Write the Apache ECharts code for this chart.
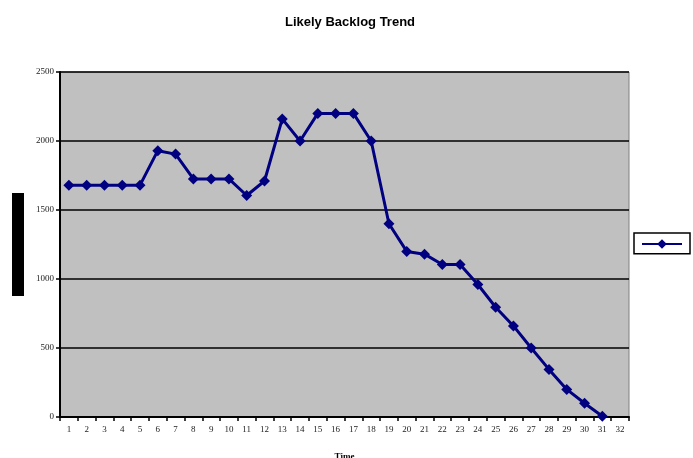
<!DOCTYPE html>
<html><head><meta charset="utf-8">
<script src="https://cdn.jsdelivr.net/npm/echarts@6/dist/echarts.min.js"></script>
<style>html,body{margin:0;padding:0;background:#fff}#c{width:693px;height:458px}</style>
</head><body><div id="c"></div>
<script>
var categories = ['1','2','3','4','5','6','7','8','9','10','11','12','13','14','15','16','17','18','19','20','21','22','23','24','25','26','27','28','29','30','31','32'];
var backlog = [1680,1680,1680,1680,1680,1930,1905,1725,1725,1725,1605,1710,2160,2000,2200,2200,2200,2000,1400,1200,1180,1105,1105,960,795,660,500,345,200,100,5,null];
var seriesName = 'Backlog';
var titleText = 'Likely Backlog Trend';
var xName = 'Time';
var yName = 'Backlog';

var chart = echarts.init(document.getElementById('c'));
chart.setOption({
  animation: false,
  title: { text: titleText, left: 345, top: 11, textAlign: 'center',
    textStyle: { fontFamily: 'Liberation Sans', fontSize: 13, fontWeight: 'bold', color: '#000' } },
  legend: { right: 3, top: 233, itemWidth: 40, itemHeight: 12, itemGap: 0,
    padding: [5, 7, 5, 7], borderColor: '#000', borderWidth: 1.5,
    formatter: function(){ return ''; }, data: [seriesName] },
  grid: { left: 60, right: 64, top: 72, bottom: 41, show: true, containLabel: false,
    outerBoundsMode: 'none',
    backgroundColor: '#c0c0c0', borderColor: '#808080', borderWidth: 1 },
  xAxis: { type: 'category', data: categories, boundaryGap: true,
    name: xName, nameLocation: 'middle', nameGap: 35,
    nameTextStyle: { fontFamily: 'Liberation Serif', fontSize: 9, fontWeight: 'bold', color: '#000' },
    axisLine: { lineStyle: { color: '#000', width: 2 } },
    axisTick: { show: true, length: 4, lineStyle: { color: '#000', width: 1.5 }, alignWithLabel: false },
    axisLabel: { fontFamily: 'Liberation Serif', fontSize: 9, color: '#222', margin: 8 } },
  yAxis: { type: 'value', min: 0, max: 2500, interval: 500,
    name: yName, nameLocation: 'middle', nameGap: 36, nameRotate: 90,
    nameTextStyle: { fontFamily: 'Liberation Sans', fontSize: 11, fontWeight: 'bold', color: '#000',
      backgroundColor: '#000', padding: [0, 30, 0, 30], lineHeight: 12 },
    axisLine: { show: true, lineStyle: { color: '#000', width: 2 } },
    axisTick: { show: true, length: 4, lineStyle: { color: '#000', width: 1.5 } },
    axisLabel: { fontFamily: 'Liberation Serif', fontSize: 9, color: '#222', margin: 6,
      formatter: function(v){ return String(v); } },
    splitLine: { lineStyle: { color: '#000', width: 1.5 } } },
  series: [{ name: seriesName, type: 'line', data: backlog,
    symbol: 'diamond', symbolSize: 11, showAllSymbol: true,
    lineStyle: { color: '#000080', width: 3 },
    itemStyle: { color: '#000080' } }]
});
</script></body></html>
